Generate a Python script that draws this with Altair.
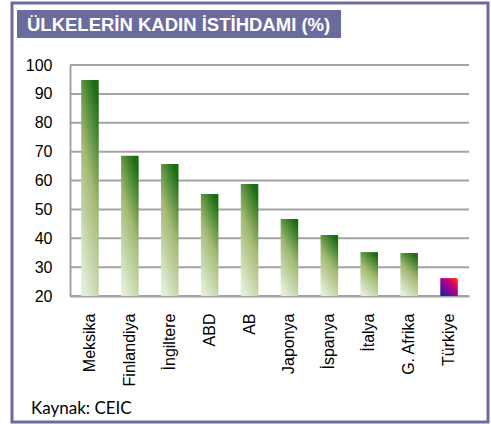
import altair as alt
import pandas as pd

countries = ["Meksika", "Finlandiya", "İngiltere", "ABD", "AB", "Japonya",
             "İspanya", "İtalya", "G. Afrika", "Türkiye"]
values = [94.8, 68.6, 65.7, 55.3, 58.8, 46.7, 41.1, 35.2, 34.9, 26.2]
highlight = "Türkiye"
title_text = "ÜLKELERİN KADIN İSTİHDAMI (%)"
source_text = "Kaynak: CEIC"
y_ticks = [20, 30, 40, 50, 60, 70, 80, 90, 100]

df = pd.DataFrame({"Ulke": countries, "Deger": values})
grid_df = pd.DataFrame({"Deger": y_ticks})

FRAME = "#6B6B9E"
GRID = "#A3A3A3"
W, H = 399, 231

x_enc = alt.X("Ulke:N", sort=countries,
              scale=alt.Scale(domain=countries, paddingInner=0.56, paddingOuter=0.28),
              axis=alt.Axis(title=None, labelAngle=-90, labelFontSize=16,
                            labelFont="Liberation Sans", labelColor="#000000",
                            tickSize=0, labelPadding=17, domainColor=GRID,
                            domainWidth=2, grid=False))
y_enc = alt.Y("Deger:Q", scale=alt.Scale(domain=[20, 100], zero=False, nice=False),
              axis=alt.Axis(title=None, values=y_ticks, labelFontSize=16,
                            labelFont="Liberation Sans", labelColor="#000000",
                            tickSize=0, labelPadding=18, domainColor=GRID,
                            domainWidth=2, grid=False))

green = alt.Gradient(
    gradient="linear", x1=0.7, y1=0, x2=0.3, y2=1,
    stops=[alt.GradientStop(color="#1C6C12", offset=0),
           alt.GradientStop(color="#A2B972", offset=0.45),
           alt.GradientStop(color="#E2EDD6", offset=1)])
tr = alt.Gradient(
    gradient="linear", x1=1, y1=0, x2=0, y2=1,
    stops=[alt.GradientStop(color="#FF9900", offset=0),
           alt.GradientStop(color="#FF2020", offset=0.1),
           alt.GradientStop(color="#C00080", offset=0.38),
           alt.GradientStop(color="#6A10A0", offset=0.68),
           alt.GradientStop(color="#1C1C8A", offset=1)])

one = alt.Data(values=[{"t": title_text, "s": source_text}])

frame = alt.Chart(one).mark_rect(filled=False, stroke=FRAME, strokeWidth=3).encode(
    x=alt.value(-58), x2=alt.value(418), y=alt.value(-62), y2=alt.value(357))

title_box = alt.Chart(one).mark_rect(fill=FRAME).encode(
    x=alt.value(-53), x2=alt.value(271), y=alt.value(-55), y2=alt.value(-27))

title = alt.Chart(one).mark_text(
    align="left", baseline="alphabetic", font="Liberation Sans",
    fontWeight="bold", fontSize=18.5, color="white").encode(
    x=alt.value(-43), y=alt.value(-34), text="t:N")

source = alt.Chart(one).mark_text(
    align="left", baseline="alphabetic", font="Lato",
    fontSize=17, color="#000000").encode(
    x=alt.value(-39), y=alt.value(349), text="s:N")

grid = alt.Chart(grid_df).mark_rule(color=GRID, strokeWidth=2).encode(
    y=y_enc, x=alt.value(0), x2=alt.value(W))

bars = alt.Chart(df).transform_filter(
    alt.datum["Ulke"] != highlight
).mark_bar(color=green).encode(x=x_enc, y=y_enc, y2=alt.Y2(datum=20))

bar_tr = alt.Chart(df).transform_filter(
    alt.datum["Ulke"] == highlight
).mark_bar(color=tr).encode(x=x_enc, y=y_enc, y2=alt.Y2(datum=20))

chart = alt.layer(frame, title_box, title, source, grid, bars, bar_tr).properties(
    width=W, height=H,
    autosize=alt.AutoSizeParams(type="none"),
    padding={"left": 70, "top": 65, "right": 22, "bottom": 128}
).configure_view(strokeWidth=0)

chart.save("out.html", embed_options={"renderer": "svg", "actions": False})
